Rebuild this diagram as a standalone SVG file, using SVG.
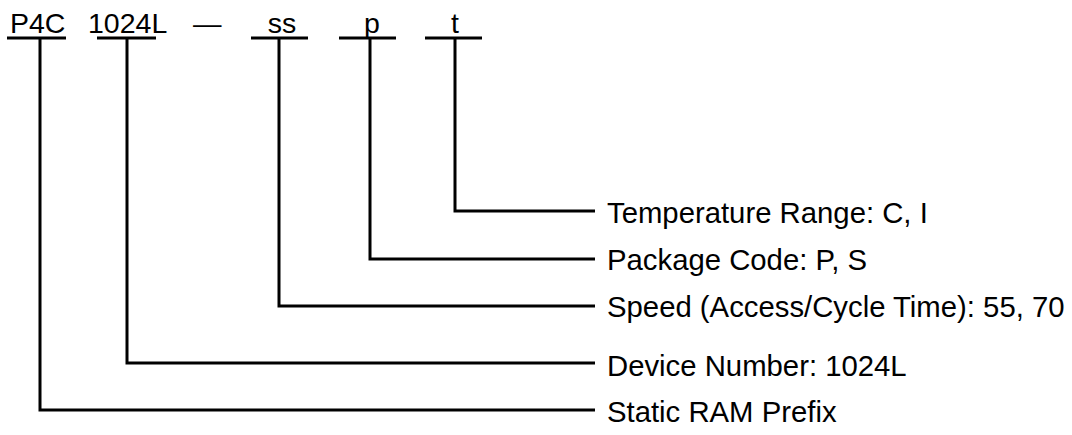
<svg xmlns="http://www.w3.org/2000/svg" width="1072" height="435" viewBox="0 0 1072 435">
<style>
text{font-family:"Liberation Sans",Arial,sans-serif;font-size:28.5px;fill:#000}
.lbl text{font-size:29.3px}
.l{stroke:#000;stroke-width:3;fill:none;stroke-linecap:butt}
</style>
<rect width="1072" height="435" fill="#fff"/>
<g id="code">
<text x="10" y="33">P4C</text>
<text x="88" y="33">1024L</text>
<text x="193" y="33">—</text>
<text x="282" y="33" text-anchor="middle">ss</text>
<text x="372" y="33" text-anchor="middle">p</text>
<text x="455" y="33" text-anchor="middle">t</text>
</g>
<g id="underlines">
<line class="l" x1="7" y1="38" x2="66" y2="38"/>
<line class="l" x1="97" y1="38" x2="156" y2="38"/>
<line class="l" x1="251" y1="38" x2="308" y2="38"/>
<line class="l" x1="339" y1="38" x2="396" y2="38"/>
<line class="l" x1="425" y1="38" x2="482" y2="38"/>
</g>
<g id="connectors">
<polyline class="l" points="455,38 455,211 595,211"/>
<polyline class="l" points="370,38 370,259 595,259"/>
<polyline class="l" points="279,38 279,306 595,306"/>
<polyline class="l" points="127,38 127,363 595,363"/>
<polyline class="l" points="40,38 40,410 595,410"/>
</g>
<g class="lbl">
<g id="n-temp"><text x="607" y="223">Temperature Range: C, I</text></g>
<g id="n-pkg"><text x="607" y="270">Package Code: P, S</text></g>
<g id="n-speed"><text x="607" y="317">Speed (Access/Cycle Time): 55, 70</text></g>
<g id="n-dev"><text x="607" y="376">Device Number: 1024L</text></g>
<g id="n-prefix"><text x="607" y="422">Static RAM Prefix</text></g>
</g>
</svg>
